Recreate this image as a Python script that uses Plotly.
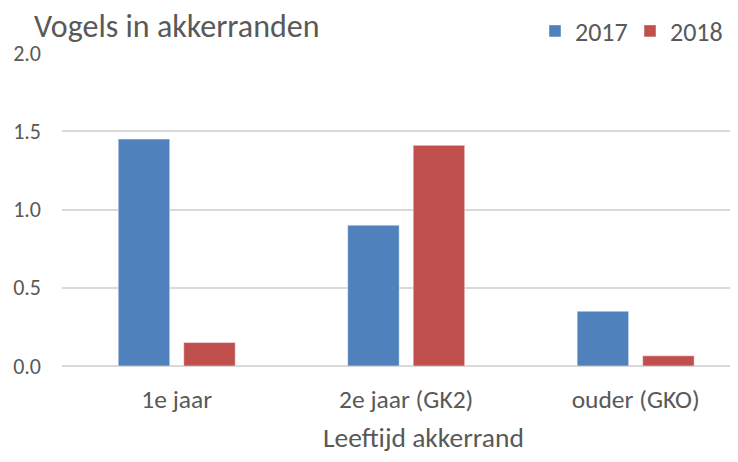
import plotly.graph_objects as go

categories = ["1e jaar", "2e jaar (GK2)", "ouder (GKO)"]
values_2017 = [1.45, 0.90, 0.35]
values_2018 = [0.15, 1.41, 0.065]
series_names = ["2017", "2018"]
y_tick_vals = [0.0, 0.5, 1.0, 1.5, 2.0]
y_tick_text = ["0.0", "0.5", "1.0", "1.5", "2.0"]

FONT = "Carlito, Lato, sans-serif"
TXT = "#595959"

# page body has an 8px margin; figure is sized so that it fills the window
W, H = 730, 454
L, R, T, B = 54, 0, 45, 96
PW, PH = W - L - R, H - T - B

fig = go.Figure()
fig.add_trace(go.Bar(x=categories, y=values_2017, name=series_names[0],
                     marker=dict(color="#4F81BD", line=dict(color="rgba(255,255,255,0.45)", width=1))))
fig.add_trace(go.Bar(x=categories, y=values_2018, name=series_names[1],
                     marker=dict(color="#C0504D", line=dict(color="rgba(255,255,255,0.45)", width=1))))

fig.update_layout(
    width=W, height=H,
    margin=dict(l=L, r=R, t=T, b=B, autoexpand=False),
    paper_bgcolor="white", plot_bgcolor="white",
    barmode="group", bargap=0.429, bargroupgap=0.214,
    font=dict(family=FONT, color=TXT),
    showlegend=True,
    legend=dict(orientation="h", x=(527 - L) / PW, xanchor="left",
                y=1 + (T - 23) / PH, yanchor="middle",
                font=dict(size=26, color=TXT, family=FONT),
                traceorder="normal", bgcolor="rgba(0,0,0,0)",
                entrywidth=50, entrywidthmode="pixels", itemwidth=30),
    annotations=[
        dict(text="Vogels in akkerranden", xref="paper", yref="paper",
             x=(24 - L) / PW, y=1 + (T - 18) / PH, xanchor="left", yanchor="middle",
             showarrow=False, font=dict(size=32, color=TXT, family=FONT)),
        dict(text="Leeftijd akkerrand", xref="paper", yref="paper",
             x=(415 - L) / PW, y=-72 / PH, xanchor="center", yanchor="middle",
             showarrow=False, font=dict(size=27.5, color=TXT, family=FONT)),
    ],
)
fig.update_xaxes(type="category", range=[-0.5, 2.446], showgrid=False, showline=False,
                 automargin=False, ticks="", ticklabelstandoff=15,
                 tickfont=dict(size=25.5, color=TXT, family=FONT))
fig.update_yaxes(range=[0, 2.0], tickvals=y_tick_vals, ticktext=y_tick_text,
                 automargin=False,
                 showgrid=True, gridcolor="#D9D9D9", gridwidth=1.5,
                 zeroline=True, zerolinecolor="#D9D9D9", zerolinewidth=1.5,
                 showline=False, ticks="", ticklabelstandoff=20,
                 tickfont=dict(size=22, color=TXT, family=FONT))

fig.write_html("out.html")
